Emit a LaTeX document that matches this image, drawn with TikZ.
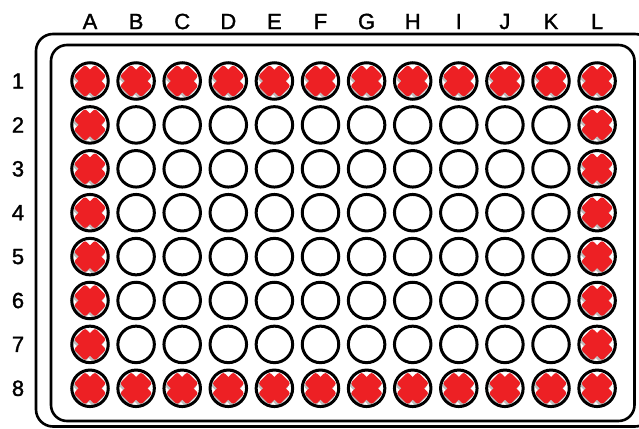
\documentclass[tikz,border=0pt]{standalone}
\usepackage{fontspec}
\setmainfont{Liberation Sans}
\newfontfamily\lblfont[FakeBold=1.5]{Liberation Sans}
\definecolor{xred}{RGB}{237,32,36}
\definecolor{shadowgrey}{RGB}{190,190,190}
\begin{document}
\begin{tikzpicture}[x=1pt,y=-1pt,
  frame/.style={line width=2.6pt},
  well/.style={circle, draw, line width=3pt, minimum size=36.5pt, inner sep=0pt},
  lbl/.style={font=\lblfont\fontsize{22}{22}\selectfont, text=black, inner sep=0pt},
  xcross/.pic={
    \begin{scope}[shift={(-1.2,2.2)}]
      \fill[shadowgrey,rotate=45,rounded corners=2.5pt] (-15,-8) rectangle (15,8);
      \fill[shadowgrey,rotate=-45,rounded corners=2.5pt] (-15,-8) rectangle (15,8);
    \end{scope}
    \fill[xred,rotate=45,rounded corners=2.5pt] (-15,-8) rectangle (15,8);
    \fill[xred,rotate=-45,rounded corners=2.5pt] (-15,-8) rectangle (15,8);
  }
  ]
\useasboundingbox (0,0) rectangle (639,428);
\begin{scope}
  \clip (0,0) rectangle (639,428);
  \draw[frame, rounded corners=17pt] (36,34) rectangle (652,426.5);
\end{scope}
\draw[frame, rounded corners=16pt] (51,45) rectangle (634.5,421);
\foreach \r in {1,...,8} {
  \node[lbl] (row\r) at (18, 81+43.9*\r-43.9) {\r};
}
\foreach \c [count=\n] in {A,B,C,D,E,F,G,H,I,J,K,L} {
  \pgfmathsetmacro\xx{90+46.1*(\n-1)}
  \node[lbl] (col\c) at (\xx, 21.5) {\c};
  \foreach \r in {1,...,8} {
    \pgfmathsetmacro\yy{81+43.9*(\r-1)}
    \pgfmathtruncatemacro\isx{(\r==1||\r==8||\n==1||\n==12)?1:0}
    \ifnum\isx=1
      \pic at (\xx,\yy) {xcross};
    \fi
    \node[well] (w\c\r) at (\xx,\yy) {};
  }
}
\end{tikzpicture}
\end{document}
